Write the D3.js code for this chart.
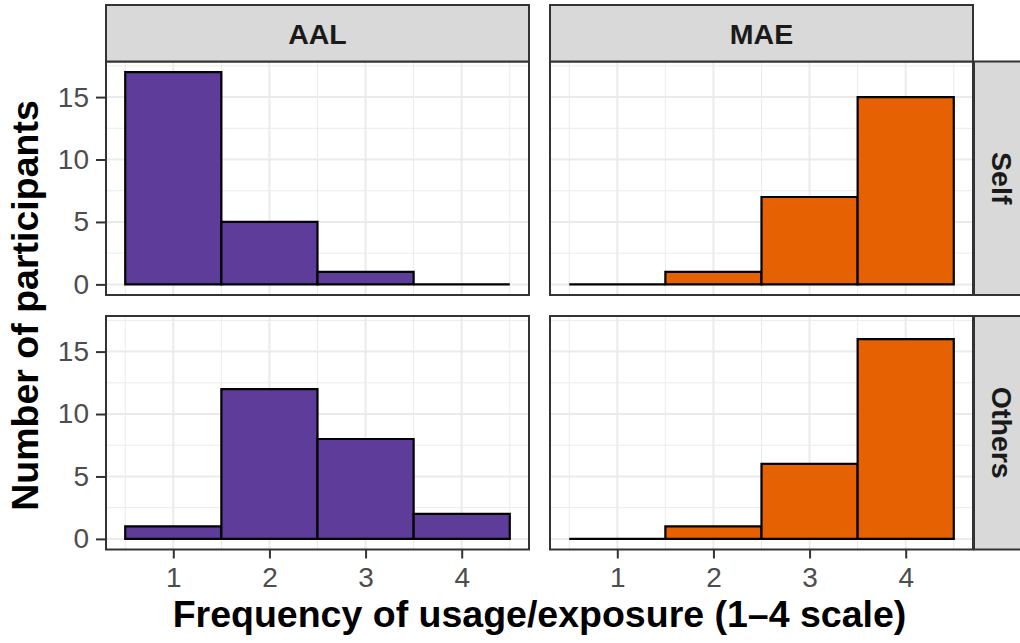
<!DOCTYPE html>
<html>
<head>
<meta charset="utf-8">
<script src="https://cdn.jsdelivr.net/npm/d3@7"></script>
<style>
  body { margin: 0; background: #fff; }
  svg { display: block; font-family: "Liberation Sans", Arial, sans-serif; }
</style>
</head>
<body>
<div id="chart"></div>
<script>
// facet levels
const methods = ["AAL", "MAE"];
const targets = ["Self", "Others"];
const categories = [1, 2, 3, 4];
const yTicks = [0, 5, 10, 15];

// counts per category (1-4)
const aalSelf = [17, 5, 1, 0];
const maeSelf = [0, 1, 7, 15];
const aalOthers = [1, 12, 8, 2];
const maeOthers = [0, 1, 6, 16];

const fillColors = { AAL: "#5E3C99", MAE: "#E66101" };

const width = 1020;
const height = 643;

const panelX = [106, 550];
const panelY = [61.5, 316];
const pw = 423;
const ph = 233.5;

const counts = {
  AAL: { Self: aalSelf, Others: aalOthers },
  MAE: { Self: maeSelf, Others: maeOthers }
};

const svg = d3.select("#chart")
  .append("svg")
  .attr("width", width)
  .attr("height", height);

const xScale = d3.scaleLinear().domain([0.3, 4.7]).range([0, pw]);
const yScale = d3.scaleLinear().domain([-0.85, 17.85]).range([ph, 0]);

const minorX = [0.5, 1.5, 2.5, 3.5, 4.5];
const minorY = [2.5, 7.5, 12.5, 17.5];

function styleTicks(ax) {
  ax.select(".domain").remove();
  ax.selectAll(".tick line").attr("stroke", "#333333").attr("stroke-width", 2);
  ax.selectAll(".tick text")
    .attr("fill", "#4D4D4D")
    .style("font-size", "28px")
    .style("font-family", "'Liberation Sans', Arial, sans-serif");
}

methods.forEach((m, ci) => {
  targets.forEach((t, ri) => {
    const g = svg.append("g")
      .attr("transform", `translate(${panelX[ci]}, ${panelY[ri]})`);

    g.append("rect")
      .attr("width", pw).attr("height", ph)
      .attr("fill", "#fff");

    // minor grid
    g.selectAll(".minor-x").data(minorX).enter().append("line")
      .attr("x1", d => xScale(d)).attr("x2", d => xScale(d))
      .attr("y1", 0).attr("y2", ph)
      .attr("stroke", "#EBEBEB").attr("stroke-width", 1);
    g.selectAll(".minor-y").data(minorY).enter().append("line")
      .attr("y1", d => yScale(d)).attr("y2", d => yScale(d))
      .attr("x1", 0).attr("x2", pw)
      .attr("stroke", "#EBEBEB").attr("stroke-width", 1);

    // major grid
    g.selectAll(".major-x").data(categories).enter().append("line")
      .attr("x1", d => xScale(d)).attr("x2", d => xScale(d))
      .attr("y1", 0).attr("y2", ph)
      .attr("stroke", "#EBEBEB").attr("stroke-width", 2);
    g.selectAll(".major-y").data(yTicks).enter().append("line")
      .attr("y1", d => yScale(d)).attr("y2", d => yScale(d))
      .attr("x1", 0).attr("x2", pw)
      .attr("stroke", "#EBEBEB").attr("stroke-width", 2);

    // bars (path so zero-count bins still show a flat outline)
    const data = categories.map((c, i) => ({ x: c, n: counts[m][t][i] }));
    g.selectAll(".bar").data(data).enter().append("path")
      .attr("d", d => {
        const x0 = xScale(d.x - 0.5), x1 = xScale(d.x + 0.5);
        const y0 = yScale(0), y1 = yScale(d.n);
        return `M${x0},${y0}L${x0},${y1}L${x1},${y1}L${x1},${y0}Z`;
      })
      .attr("fill", fillColors[m])
      .attr("stroke", "#000")
      .attr("stroke-width", 2.2)
      .attr("stroke-linejoin", "miter");

    // panel border
    g.append("rect")
      .attr("width", pw).attr("height", ph)
      .attr("fill", "none")
      .attr("stroke", "#333333")
      .attr("stroke-width", 2);

    // axes
    if (ci === 0) {
      const ax = g.append("g")
        .call(d3.axisLeft(yScale).tickValues(yTicks).tickSize(10).tickPadding(7));
      styleTicks(ax);
    }
    if (ri === 1) {
      const ax = g.append("g")
        .attr("transform", `translate(0, ${ph})`)
        .call(d3.axisBottom(xScale).tickValues(categories).tickFormat(d3.format("d"))
          .tickSize(9).tickPadding(9));
      styleTicks(ax);
    }
  });
});

// top strips
methods.forEach((m, ci) => {
  const g = svg.append("g").attr("transform", `translate(${panelX[ci]}, 5)`);
  g.append("rect")
    .attr("width", pw).attr("height", panelY[0] - 5)
    .attr("fill", "#D9D9D9")
    .attr("stroke", "#333333")
    .attr("stroke-width", 2);
  g.append("text")
    .attr("x", pw / 2)
    .attr("y", (panelY[0] - 5) / 2)
    .attr("dy", "0.36em")
    .attr("text-anchor", "middle")
    .attr("fill", "#1A1A1A")
    .style("font-size", "28.5px")
    .style("font-weight", "bold")
    .text(m);
});

// right strips
targets.forEach((t, ri) => {
  const sx = panelX[1] + pw + 1;
  const g = svg.append("g").attr("transform", `translate(${sx}, ${panelY[ri]})`);
  g.append("rect")
    .attr("width", 56).attr("height", ph)
    .attr("fill", "#D9D9D9")
    .attr("stroke", "#333333")
    .attr("stroke-width", 2);
  g.append("text")
    .attr("transform", `translate(28, ${ph / 2}) rotate(90)`)
    .attr("dy", "0.36em")
    .attr("text-anchor", "middle")
    .attr("fill", "#1A1A1A")
    .style("font-size", "28.5px")
    .style("font-weight", "bold")
    .text(t);
});

// axis titles
svg.append("text")
  .attr("x", (panelX[0] + panelX[1] + pw) / 2)
  .attr("y", 627)
  .attr("text-anchor", "middle")
  .attr("fill", "#000")
  .style("font-size", "37.5px")
  .style("font-weight", "bold")
  .text("Frequency of usage/exposure (1\u20134 scale)");

svg.append("text")
  .attr("transform", `translate(38, ${(panelY[0] + panelY[1] + ph) / 2}) rotate(-90)`)
  .attr("text-anchor", "middle")
  .attr("fill", "#000")
  .style("font-size", "37.5px")
  .style("font-weight", "bold")
  .text("Number of participants");
</script>
</body>
</html>
